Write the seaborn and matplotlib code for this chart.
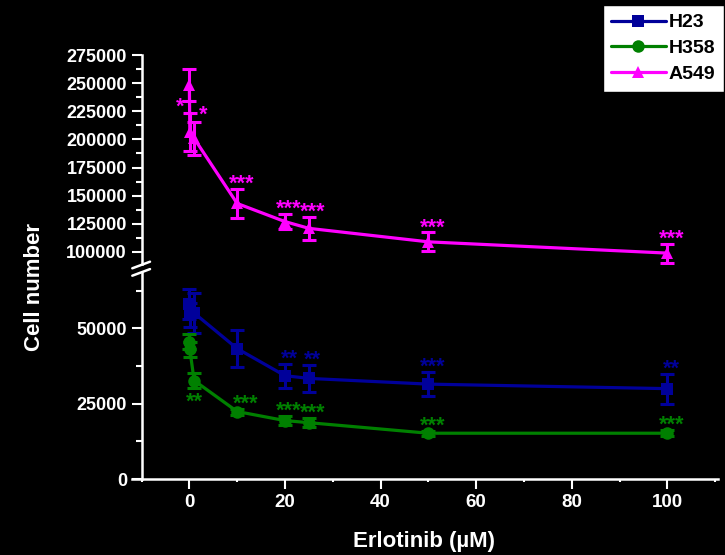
import matplotlib
matplotlib.use("Agg")
import matplotlib.pyplot as plt
from matplotlib.ticker import MultipleLocator, AutoMinorLocator
from matplotlib.lines import Line2D
import numpy as np
import pandas as pd
import seaborn as sns

# ---------------- data ----------------
conc = [0, 0.1, 1, 10, 20, 25, 50, 100]
series_names = ["H23", "H358", "A549"]

h23_mean = [58000, 54500, 55100, 43300, 34300, 33400, 31500, 30000]
h23_err = [5000, 4000, 6700, 6200, 4000, 4600, 4000, 5000]
h358_mean = [45500, 43000, 32700, 22400, 19400, 18700, 15200, 15200]
h358_err = [2500, 2500, 2500, 1000, 1500, 1500, 800, 1000]
a549_mean = [248300, 206800, 200900, 143100, 127000, 121000, 109000, 99000]
a549_err = [14000, 17000, 15000, 13000, 7000, 10000, 8500, 8500]

h23_sig = ["", "", "", "", "**", "**", "***", "**"]
h358_sig = ["", "", "**", "***", "***", "***", "***", "***"]
a549_sig = ["", "*", "*", "***", "***", "***", "***", "***"]

x_ticks = [0, 20, 40, 60, 80, 100]
x_label = "Erlotinib (\u00b5M)"
y_label = "Cell number"

colors = {"H23": "#00009a", "H358": "#008000", "A549": "#ff00ff"}
markers = {"H23": "s", "H358": "o", "A549": "^"}

means = {"H23": h23_mean, "H358": h358_mean, "A549": a549_mean}
errs = {"H23": h23_err, "H358": h358_err, "A549": a549_err}
sigs = {"H23": h23_sig, "H358": h358_sig, "A549": a549_sig}

df = pd.concat([
    pd.DataFrame({"conc": conc, "cells": means[n], "err": errs[n], "line": n})
    for n in series_names
], ignore_index=True)

# ---------------- figure ----------------
sns.set_theme(style="ticks")
plt.rcParams["font.family"] = ["Liberation Sans", "DejaVu Sans"]
plt.rcParams["font.weight"] = "bold"

W, H = 725, 555
fig = plt.figure(figsize=(7.25, 5.55), dpi=100, facecolor="black")

L = 132 / W
Wd = (717.5 - 132) / W
ax_top = fig.add_axes([L, 1 - 264 / H, Wd, (264 - 55) / H])
ax_bot = fig.add_axes([L, 1 - 479 / H, Wd, (479 - 273) / H])

for ax in (ax_top, ax_bot):
    ax.set_facecolor("black")
    sns.lineplot(data=df, x="conc", y="cells", hue="line", style="line",
                 hue_order=series_names, style_order=series_names,
                 palette=colors, markers=markers, dashes=False,
                 markersize=9, linewidth=2.3, markeredgewidth=0,
                 ax=ax, legend=(ax is ax_top), zorder=3)
    for n in series_names:
        sub = df[df["line"] == n]
        ax.errorbar(sub["conc"], sub["cells"], yerr=sub["err"], fmt="none",
                    ecolor=colors[n], elinewidth=2.2, capsize=5, capthick=2.2,
                    zorder=4)
    ax.set_xlim(-12, 110.5)
    ax.set_xlabel("")
    ax.set_ylabel("")
    for s in ("top", "right"):
        ax.spines[s].set_visible(False)
    ax.spines["left"].set_position(("data", -10))
    for s in ("left", "bottom"):
        ax.spines[s].set_color("white")
        ax.spines[s].set_linewidth(1.8)
    ax.tick_params(axis="both", which="major", colors="white", width=1.5,
                   length=7, labelsize=13, direction="out")
    ax.tick_params(axis="both", which="minor", colors="white", width=1.5,
                   length=4, direction="out")
    ax.yaxis.set_major_locator(MultipleLocator(25000))
    ax.yaxis.set_minor_locator(AutoMinorLocator(2))
    ax.yaxis.set_major_formatter(plt.FuncFormatter(lambda v, p: f"{int(v)}"))
    for lab in ax.get_yticklabels():
        lab.set_fontweight("bold")

ax_top.set_ylim(89320, 275000)
ax_bot.set_ylim(0, 68393)

ax_top.spines["bottom"].set_visible(False)
ax_top.tick_params(axis="x", which="both", bottom=False, labelbottom=False)

ax_bot.set_xticks(x_ticks)
ax_bot.xaxis.set_minor_locator(MultipleLocator(10))
ax_bot.tick_params(axis="x", which="minor", length=2)
for lab in ax_bot.get_xticklabels():
    lab.set_fontweight("bold")
    lab.set_fontsize(13.5)

# significance labels
special = {("A549", 1): (-10, 1, "above"), ("A549", 2): (9, 2, "above"),
           ("H358", 2): (0, 0, "below"), ("H358", 3): (8, 0, "above")}
for n in series_names:
    ax = ax_top if n == "A549" else ax_bot
    for i, lab in enumerate(sigs[n]):
        if not lab:
            continue
        dx, dy, where = special.get((n, i), (4, 0, "above"))
        if where == "above":
            y = means[n][i] + errs[n][i]
            off_y = -1 + dy
        else:
            y = means[n][i] - errs[n][i]
            off_y = -20 + dy
        ax.annotate(lab, xy=(conc[i], y), xytext=(dx, off_y),
                    textcoords="offset pixels", ha="center", va="baseline",
                    color=colors[n], fontsize=15.5, fontweight="bold",
                    annotation_clip=False, zorder=5)

# axis break marks
for yb in (268.3, 275.7):
    fig.add_artist(Line2D([132.3 / W, 150 / W],
                          [1 - yb / H, 1 - (yb - 6.6) / H],
                          color="white", linewidth=1.8,
                          transform=fig.transFigure))

# labels
fig.text(35 / W, 1 - 287 / H, y_label, rotation=90, ha="center", va="center",
         color="white", fontsize=16, fontweight="bold")
fig.text(424 / W, 1 - 541 / H, x_label, ha="center", va="center",
         color="white", fontsize=16, fontweight="bold")

# legend
sns.move_legend(ax_top, loc="upper right", bbox_to_anchor=(724 / W, 1 - 5 / H),
                bbox_transform=fig.transFigure, borderaxespad=0, title=None,
                frameon=True, fancybox=False, framealpha=1,
                facecolor="white", edgecolor="black",
                handlelength=2.8, handletextpad=0.15, borderpad=0.45,
                labelspacing=0.42, prop={"weight": "bold", "size": 14})
leg = ax_top.get_legend()
for t in leg.get_texts():
    t.set_color("black")
leg.set_zorder(10)

fig.savefig("out.png", dpi=100, facecolor="black")
